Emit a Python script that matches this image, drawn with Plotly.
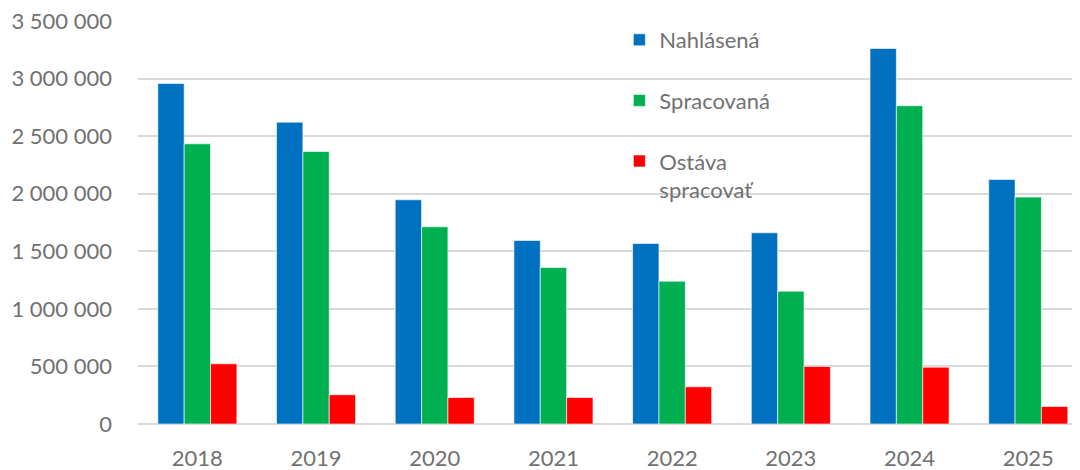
import plotly.graph_objects as go

years = ["2018", "2019", "2020", "2021", "2022", "2023", "2024", "2025"]
nahlasena = [2958000, 2622000, 1948000, 1594000, 1568000, 1661000, 3262000, 2124000]
spracovana = [2434000, 2367000, 1713000, 1360000, 1241000, 1154000, 2765000, 1971000]
ostava = [523000, 254000, 230000, 230000, 323000, 500000, 494000, 152000]

names = ["Nahlásená", "Spracovaná", "Ostáva<br>spracovať"]
colors = ["#0070C0", "#00B050", "#FF0000"]
series = [nahlasena, spracovana, ostava]

font_family = "Lato, 'Open Sans', sans-serif"
gray = "#717171"
fs = 22

fig = go.Figure()
for i, (nm, col, vals) in enumerate(zip(names, colors, series)):
    fig.add_trace(go.Bar(
        x=years, y=vals, name=nm, legendgroup=str(i),
        marker=dict(color=col, line=dict(color="rgba(255,255,255,0.6)", width=1)),
    ))

fig.update_layout(
    width=1072, height=462,
    margin=dict(l=130, r=0, t=13, b=46),
    paper_bgcolor="white", plot_bgcolor="white",
    barmode="group", bargap=0.334, bargroupgap=0,
    separators=", ",
    font=dict(family=font_family, size=fs, color=gray),
    legend=dict(
        x=0.511, y=1.005, xanchor="left", yanchor="top",
        bgcolor="rgba(0,0,0,0)", tracegroupgap=29, valign="top",
        font=dict(family=font_family, size=fs, color=gray),
        itemwidth=30,
    ),
    xaxis=dict(
        range=[-0.5, 7.436], showgrid=False, showline=False, ticks="",
        tickfont=dict(size=fs, color=gray), automargin=False,
        ticklabelstandoff=19,
    ),
    yaxis=dict(
        range=[0, 3501000], dtick=500000, tickformat=",d",
        showgrid=True, gridcolor="#d9d9d9", gridwidth=1.5,
        zeroline=True, zerolinecolor="#d9d9d9", zerolinewidth=1.5,
        showline=False, ticks="", ticklabelstandoff=25,
        ticklabeloverflow="allow",
        tickfont=dict(size=fs, color=gray), automargin=False,
    ),
)

fig.write_html("out.html")
